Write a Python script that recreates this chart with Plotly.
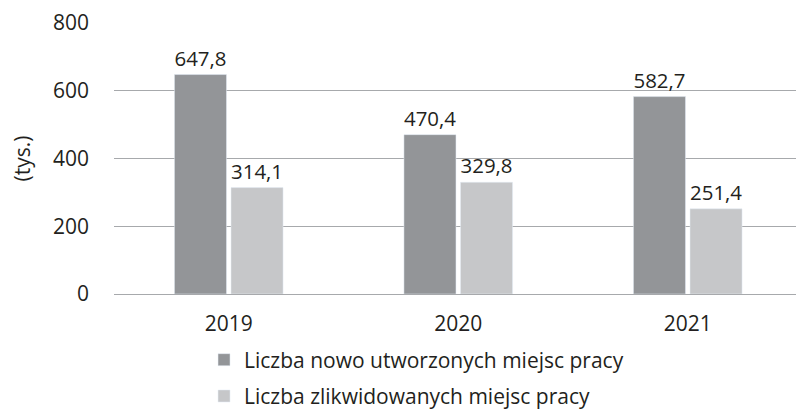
import plotly.graph_objects as go

years = ["2019", "2020", "2021"]
new_jobs = [647.8, 470.4, 582.7]
lost_jobs = [314.1, 329.8, 251.4]
series_names = ["Liczba nowo utworzonych miejsc pracy", "Liczba zlikwidowanych miejsc pracy"]
y_ticks = [0, 200, 400, 600, 800]

FONT = "Open Sans"
TXT = "#231f20"
FS = 21

fig = go.Figure()
fig.add_trace(go.Bar(x=years, y=new_jobs, name=series_names[0], marker_color="#939598",
                     texttemplate="%{y:.1f}", textposition="outside", cliponaxis=False,
                     textfont=dict(size=FS, color=TXT, family=FONT), legendgroup="a"))
fig.add_trace(go.Bar(x=years, y=lost_jobs, name=series_names[1], marker_color="#c6c7c9",
                     texttemplate="%{y:.1f}", textposition="outside", cliponaxis=False,
                     textfont=dict(size=FS, color=TXT, family=FONT), legendgroup="b"))

fig.update_layout(
    width=796, height=413,
    margin=dict(l=114, r=0, t=23, b=119, autoexpand=False),
    paper_bgcolor="white", plot_bgcolor="white",
    separators=", ",
    barmode="group", bargap=0.507, bargroupgap=0.08,
    font=dict(family=FONT, size=FS, color=TXT),
    showlegend=True,
    legend=dict(orientation="v", x=0.132, xanchor="left", y=-0.168, yanchor="top",
                font=dict(size=FS, color=TXT, family=FONT), tracegroupgap=6,
                itemwidth=30),
    xaxis=dict(range=[-0.5, 2.4717], showgrid=False, showline=False, ticks="",
               ticklabelstandoff=15, automargin=False,
               tickfont=dict(size=FS, color=TXT)),
    yaxis=dict(range=[0, 800], tickvals=y_ticks, showgrid=True, gridcolor="#a7a9ac",
               gridwidth=1.3, zeroline=True, zerolinecolor="#a7a9ac", zerolinewidth=1.3,
               showline=False, ticks="", ticklabelstandoff=24, automargin=False,
               tickfont=dict(size=FS, color=TXT),
               title=dict(text="(tys.)", font=dict(size=FS, color=TXT), standoff=16)),
)

fig.write_html("out.html", config={"displayModeBar": False},
               post_script="document.body.style.margin='0';document.body.style.overflow='hidden';")
